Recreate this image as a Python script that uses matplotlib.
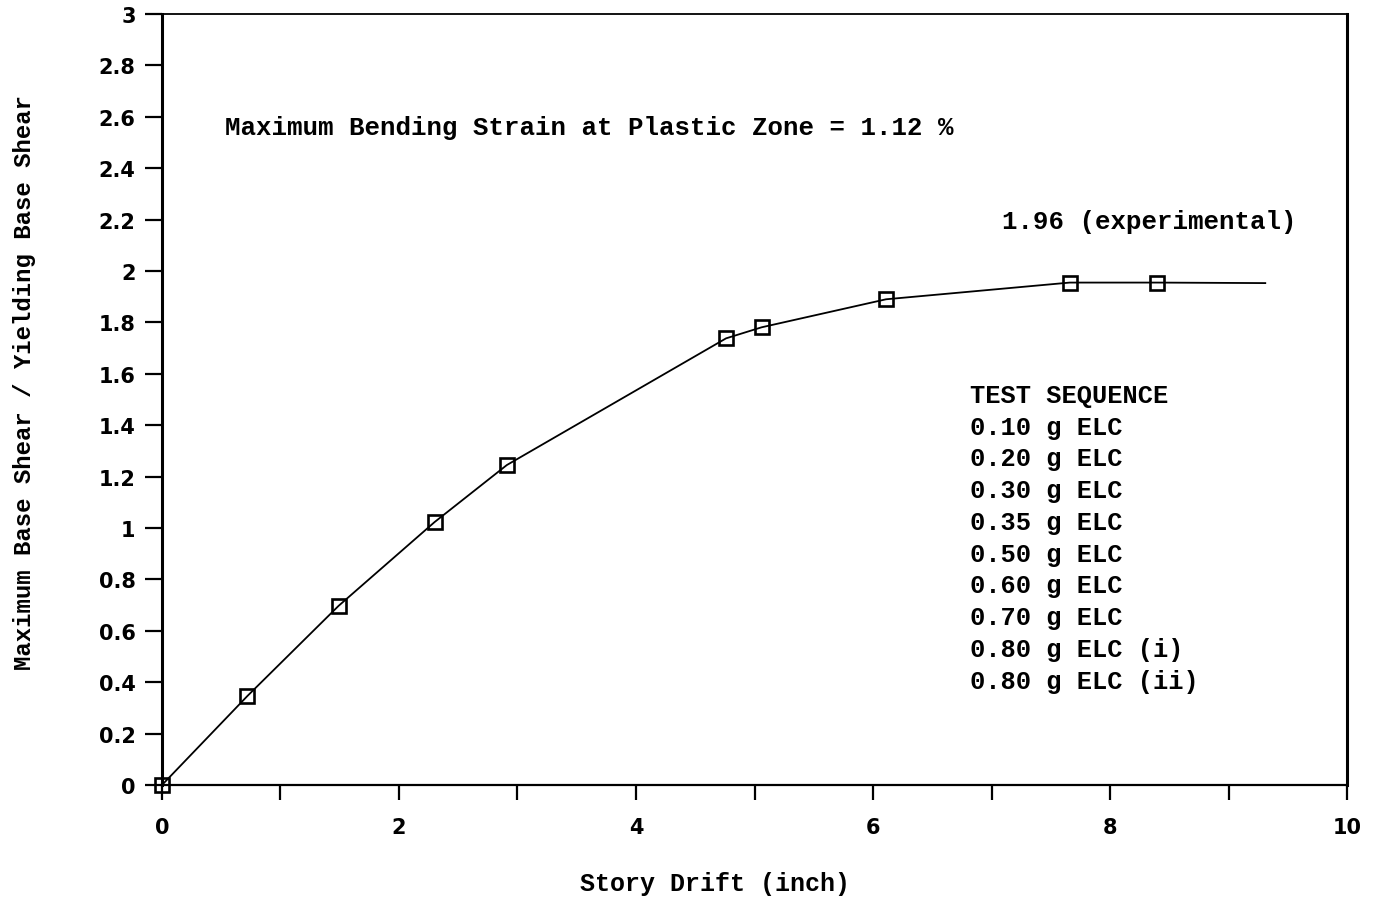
import matplotlib
matplotlib.use("Agg")
import matplotlib.pyplot as plt

# story drift (inch) vs normalised base shear, one point per test
drift = [0.0, 0.72, 1.49, 2.30, 2.91, 4.76, 5.06, 6.11, 7.66, 8.40]
shear = [0.0, 0.346, 0.697, 1.023, 1.245, 1.738, 1.781, 1.890, 1.955, 1.955]
# line continues past the last test
tail_drift = 9.31
tail_shear = 1.953

x_ticks = list(range(0, 11))
x_tick_labels = ["0", "", "2", "", "4", "", "6", "", "8", "", "10"]
y_ticks = [0, 0.2, 0.4, 0.6, 0.8, 1, 1.2, 1.4, 1.6, 1.8, 2, 2.2, 2.4, 2.6, 2.8, 3]
y_tick_labels = ["0", "0.2", "0.4", "0.6", "0.8", "1", "1.2", "1.4", "1.6",
                 "1.8", "2", "2.2", "2.4", "2.6", "2.8", "3"]

test_sequence = [
    "TEST SEQUENCE",
    "0.10 g ELC",
    "0.20 g ELC",
    "0.30 g ELC",
    "0.35 g ELC",
    "0.50 g ELC",
    "0.60 g ELC",
    "0.70 g ELC",
    "0.80 g ELC (i)",
    "0.80 g ELC (ii)",
]

mono = "Liberation Mono"
plt.rcParams["font.family"] = "DejaVu Sans"
plt.rcParams["font.weight"] = "bold"

fig = plt.figure(figsize=(13.82, 9.04), dpi=100)
ax = fig.add_axes([0.1172, 0.1305, 0.8575, 0.8529])

ax.plot(drift + [tail_drift], shear + [tail_shear], color="black", lw=1.3,
        marker="s", markevery=slice(0, len(drift)), markersize=10,
        markerfacecolor="none", markeredgecolor="black", markeredgewidth=1.9,
        clip_on=False, zorder=3)

ax.set_xlim(0, 10)
ax.set_ylim(0, 3)
ax.set_xticks(x_ticks)
ax.set_xticklabels(x_tick_labels)
ax.set_yticks(y_ticks)
ax.set_yticklabels(y_tick_labels)

ax.tick_params(axis="x", direction="out", length=11, width=1.6, pad=12,
               labelsize=15)
ax.tick_params(axis="y", direction="out", length=12, width=1.6, pad=7,
               labelsize=15)

ax.spines["left"].set_linewidth(2.2)
ax.spines["right"].set_linewidth(2.2)
ax.spines["bottom"].set_linewidth(1.6)
ax.spines["top"].set_linewidth(1.3)

ax.set_xlabel("Story Drift (inch)", fontfamily=mono, fontweight="bold",
              fontsize=18, va="center")
ax.xaxis.set_label_coords(0.467, -0.127)
ax.set_ylabel("Maximum Base Shear / Yielding Base Shear", fontfamily=mono,
              fontweight="bold", fontsize=17.3, va="center")
ax.yaxis.set_label_coords(-0.116, 0.523)

ax.text(0.53, 2.56, "Maximum Bending Strain at Plastic Zone = 1.12 %",
        fontfamily=mono, fontweight="bold", fontsize=18.5, va="center")
ax.text(7.09, 2.195, "1.96 (experimental)", fontfamily=mono,
        fontweight="bold", fontsize=18.5, va="center")

for i, line in enumerate(test_sequence):
    ax.text(6.82, 1.518 - i * 0.1235, line, fontfamily=mono,
            fontweight="bold", fontsize=18.3, va="center")

fig.savefig("out.png", dpi=100)
plt.close(fig)
